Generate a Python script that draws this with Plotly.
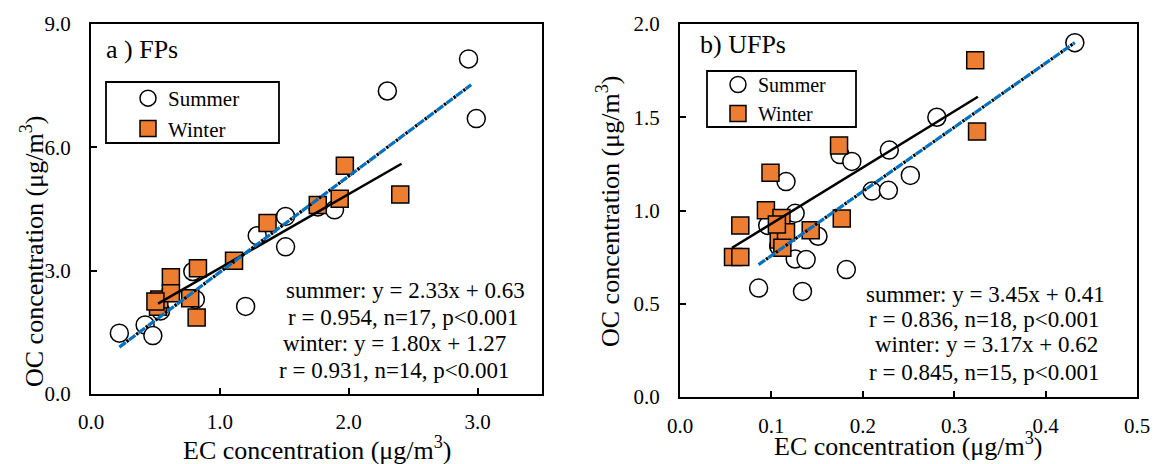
import plotly.graph_objects as go

W, H = 1157, 464

# ---------------- data: panel a) FPs ----------------
fp_summer_ec = [0.22, 0.42, 0.48, 0.54, 0.79, 0.81, 1.20, 1.29, 1.51, 1.51, 1.89, 2.30, 2.93, 2.99, 0.62, 1.76, 0.52]
fp_summer_oc = [1.48, 1.68, 1.42, 2.02, 2.98, 2.30, 2.13, 3.85, 4.32, 3.58, 4.48, 7.37, 8.15, 6.70, 2.50, 4.55, 2.25]
fp_winter_ec = [0.52, 0.53, 0.62, 0.62, 0.77, 0.83, 0.82, 1.11, 1.37, 1.76, 1.93, 1.97, 2.40, 0.50]
fp_winter_oc = [2.12, 2.30, 2.84, 2.45, 2.33, 3.06, 1.86, 3.24, 4.16, 4.60, 4.75, 5.55, 4.85, 2.25]
fp_summer_fit_x = [0.22, 2.95]
fp_summer_fit_y = [1.14, 7.52]
fp_winter_fit_x = [0.52, 2.41]
fp_winter_fit_y = [2.20, 5.60]
fp_text = ["summer: y = 2.33x + 0.63", "r = 0.954, n=17, p<0.001",
           "winter: y = 1.80x + 1.27", "r = 0.931, n=14, p<0.001"]

# ---------------- data: panel b) UFPs ----------------
ufp_summer_ec = [0.086, 0.134, 0.182, 0.126, 0.138, 0.108, 0.151, 0.096, 0.126, 0.116,
                 0.175, 0.188, 0.210, 0.228, 0.252, 0.229, 0.281, 0.432]
ufp_summer_oc = [0.584, 0.566, 0.683, 0.740, 0.737, 0.808, 0.862, 0.920, 0.985, 1.155,
                 1.300, 1.263, 1.104, 1.108, 1.188, 1.324, 1.500, 1.900]
ufp_winter_ec = [0.174, 0.099, 0.094, 0.066, 0.111, 0.108, 0.116, 0.143, 0.177, 0.058,
                 0.066, 0.323, 0.325, 0.106, 0.112]
ufp_winter_oc = [1.349, 1.203, 1.002, 0.919, 0.960, 0.845, 0.884, 0.894, 0.957, 0.751,
                 0.751, 1.806, 1.423, 0.925, 0.800]
ufp_summer_fit_x = [0.086, 0.432]
ufp_summer_fit_y = [0.71, 1.90]
ufp_winter_fit_x = [0.057, 0.326]
ufp_winter_fit_y = [0.80, 1.61]
ufp_text = ["summer: y = 3.45x + 0.41", "r = 0.836, n=18, p<0.001",
            "winter: y = 3.17x + 0.62", "r = 0.845, n=15, p<0.001"]

x_title = "EC concentration (μg/m<sup>3</sup>)"
y_title = "OC concentration (μg/m<sup>3</sup>)"

FONT = "Liberation Serif, Times New Roman, serif"
ORANGE = "#ED7D31"
BLUE = "#0070C0"

def px(x):
    return x / W

def py(y):
    return 1 - y / H

fig = go.Figure()

def add_panel(xa, ya, s_x, s_y, w_x, w_y, sfx, sfy, wfx, wfy, leg):
    fig.add_trace(go.Scatter(x=s_x, y=s_y, mode="markers", name="Summer",
                             marker=dict(symbol="circle", size=18, color="white",
                                         line=dict(color="black", width=1.5)),
                             xaxis=xa, yaxis=ya, legend=leg))
    fig.add_trace(go.Scatter(x=w_x, y=w_y, mode="markers", name="Winter",
                             marker=dict(symbol="square", size=17, color=ORANGE,
                                         line=dict(color="black", width=1.5)),
                             xaxis=xa, yaxis=ya, legend=leg))
    fig.add_trace(go.Scatter(x=wfx, y=wfy, mode="lines", showlegend=False,
                             line=dict(color="black", width=2.5),
                             xaxis=xa, yaxis=ya, hoverinfo="skip"))
    fig.add_trace(go.Scatter(x=sfx, y=sfy, mode="lines", showlegend=False,
                             line=dict(color=BLUE, width=3.2, dash="8px,4px"),
                             xaxis=xa, yaxis=ya, hoverinfo="skip"))
    fig.add_trace(go.Scatter(x=sfx, y=sfy, mode="lines", showlegend=False,
                             line=dict(color="black", width=3.2, dash="0px,9px,2.5px,0.5px"),
                             xaxis=xa, yaxis=ya, hoverinfo="skip"))

add_panel("x", "y", fp_summer_ec, fp_summer_oc, fp_winter_ec, fp_winter_oc,
          fp_summer_fit_x, fp_summer_fit_y, fp_winter_fit_x, fp_winter_fit_y, "legend")
add_panel("x2", "y2", ufp_summer_ec, ufp_summer_oc, ufp_winter_ec, ufp_winter_oc,
          ufp_summer_fit_x, ufp_summer_fit_y, ufp_winter_fit_x, ufp_winter_fit_y, "legend2")

axis_common = dict(showgrid=False, zeroline=False, showline=True, mirror=True,
                   linecolor="black", linewidth=2.2, ticks="inside", ticklen=6,
                   tickwidth=2, tickcolor="black", tickformat=".1f", automargin=False,
                   tickfont=dict(family=FONT, size=21, color="black"))

fig.update_layout(
    template="none",
    width=W, height=H,
    margin=dict(l=0, r=0, t=0, b=0, pad=0),
    paper_bgcolor="white", plot_bgcolor="white",
    font=dict(family=FONT, color="black"),
    xaxis=dict(domain=[px(91), px(542)], range=[0, 3.5], dtick=1, anchor="y",
               ticklabelstandoff=8, **axis_common),
    yaxis=dict(domain=[py(394), py(24)], range=[0, 9], dtick=3, anchor="x",
               ticklabelstandoff=14, **axis_common),
    xaxis2=dict(domain=[px(680), px(1137)], range=[0, 0.5], dtick=0.1, anchor="y2",
                ticklabelstandoff=9, **axis_common),
    yaxis2=dict(domain=[py(397), py(24)], range=[0, 2], dtick=0.5, anchor="x2",
                ticklabelstandoff=14, **axis_common),
    legend=dict(x=px(128), y=py(78), xanchor="left", yanchor="top",
                bgcolor="rgba(0,0,0,0)", borderwidth=0,
                font=dict(family=FONT, size=21, color="black"),
                tracegroupgap=0),
    legend2=dict(x=px(718), y=py(65), xanchor="left", yanchor="top",
                 bgcolor="rgba(0,0,0,0)", borderwidth=0,
                 font=dict(family=FONT, size=20, color="black"),
                 tracegroupgap=0),
    showlegend=True,
)

shapes = [
    dict(type="rect", xref="paper", yref="paper", x0=px(106), x1=px(279),
         y0=py(143), y1=py(82), line=dict(color="black", width=1.8), fillcolor="rgba(0,0,0,0)"),
    dict(type="rect", xref="paper", yref="paper", x0=px(707), x1=px(856),
         y0=py(127), y1=py(71), line=dict(color="black", width=1.8), fillcolor="rgba(0,0,0,0)"),
]
fig.update_layout(shapes=shapes)

ann = []
def add_text(text, x, y, size, xanchor="center", angle=0):
    ann.append(dict(text=text, x=px(x), y=py(y), xref="paper", yref="paper",
                    xanchor=xanchor, yanchor="middle", showarrow=False, textangle=angle,
                    font=dict(family=FONT, size=size, color="black")))

add_text("a ) FPs", 104, 49, 26, xanchor="left")
add_text("b) UFPs", 698, 45, 26, xanchor="left")
add_text(x_title, 317, 448, 26)
add_text(x_title, 908, 444, 26)
add_text(y_title, 32, 252, 26, angle=-90)
add_text(y_title, 608, 212, 26, angle=-90)

for t, xc, yc in zip(fp_text, [405, 404, 394, 394], [290, 317, 343, 370]):
    add_text(t, xc, yc, 23)
for t, xc, yc in zip(ufp_text, [985, 984, 986, 984], [294, 319, 344, 372]):
    add_text(t, xc, yc, 23)

fig.update_layout(annotations=ann)

fig.write_html("out.html", config={"displayModeBar": False},
               post_script="document.body.style.margin='0px';document.body.style.overflow='hidden';")
